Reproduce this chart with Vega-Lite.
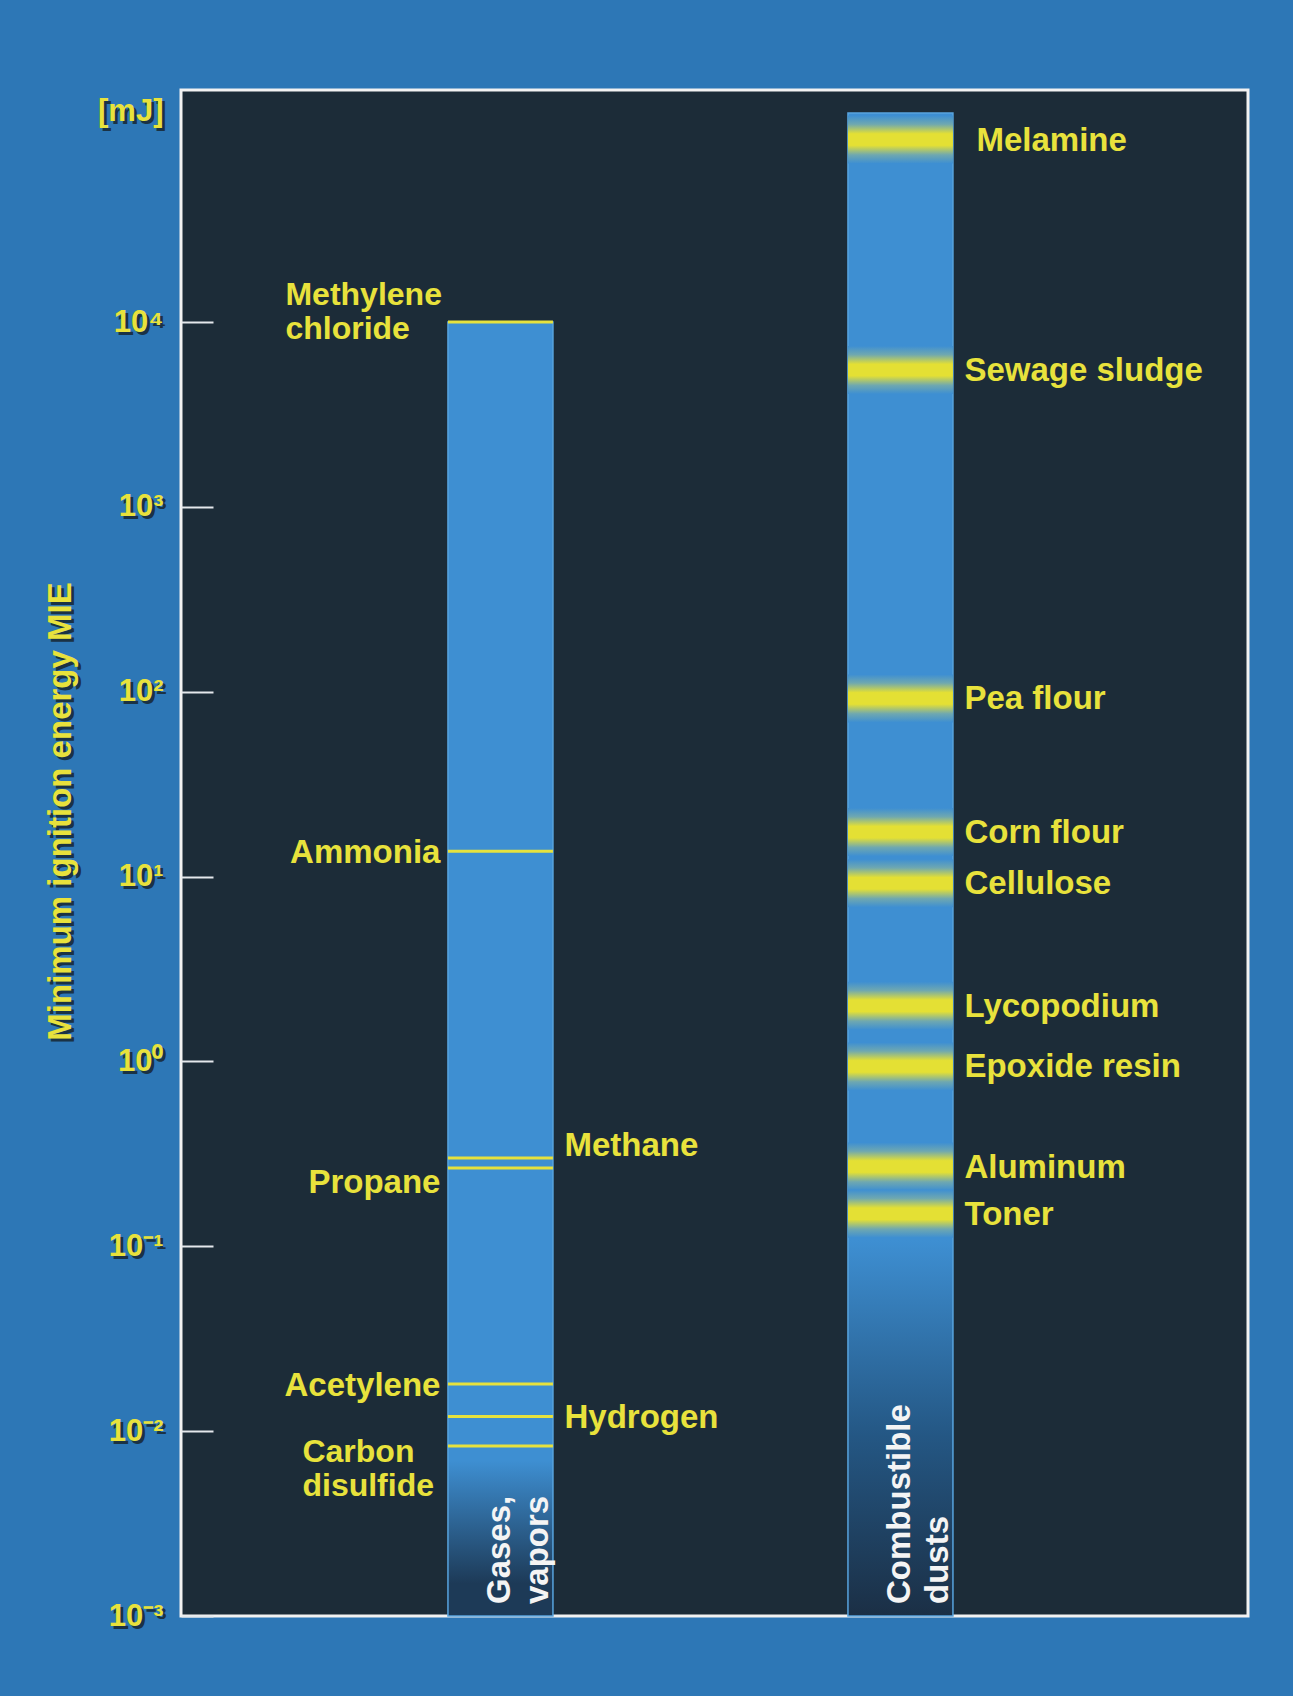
{
  "$schema": "https://vega.github.io/schema/vega-lite/v6.json",
  "width": 1067,
  "height": 1526,
  "autosize": {"type": "none"},
  "padding": {"left": 181, "top": 90, "right": 45, "bottom": 80},
  "background": "#2d77b6",
  "resolve": {"axis": {"y": "independent"}},
  "config": {
    "view": {"fill": "#1c2c38", "stroke": "#f2f2f2", "strokeWidth": 3},
    "text": {"font": "Liberation Sans", "fontWeight": "bold", "fontSize": 33, "color": "#e8e23c"},
    "axisY": {
      "grid": false,
      "domain": false,
      "tickSize": -32,
      "tickWidth": 2,
      "tickColor": "#e4e8ec",
      "labelPadding": 50,
      "labelColor": "#e8e23c",
      "labelFont": "Liberation Sans",
      "labelFontSize": 31,
      "labelFontWeight": "bold",
      "labelBaseline": "middle",
      "labelAlign": "right",
      "labelOverlap": false,
      "labelBound": false,
      "labelFlush": false,
      "titleColor": "#e8e23c",
      "titleFont": "Liberation Sans",
      "titleFontSize": 33,
      "titleFontWeight": "bold",
      "titleAngle": 270,
      "titleAlign": "center",
      "titleBaseline": "middle",
      "titleX": -121,
      "titleY": 721
    }
  },
  "datasets": {
    "bars": [
      {"group": "Gases, vapors", "low": 0.001, "high": 10000, "caption": ["Gases,", "vapors"]},
      {"group": "Combustible dusts", "low": 0.001, "high": 135000, "caption": ["Combustible", "dusts"]}
    ],
    "gases": [
      {"group": "Gases, vapors", "name": "Methylene chloride", "label": ["Methylene", "chloride"], "mie": 10000},
      {"group": "Gases, vapors", "name": "Ammonia", "label": "Ammonia", "mie": 13.7},
      {"group": "Gases, vapors", "name": "Methane", "label": "Methane", "mie": 0.30},
      {"group": "Gases, vapors", "name": "Propane", "label": "Propane", "mie": 0.265},
      {"group": "Gases, vapors", "name": "Acetylene", "label": "Acetylene", "mie": 0.018},
      {"group": "Gases, vapors", "name": "Hydrogen", "label": "Hydrogen", "mie": 0.012},
      {"group": "Gases, vapors", "name": "Carbon disulfide", "label": ["Carbon", "disulfide"], "mie": 0.0083}
    ],
    "dusts": [
      {"group": "Combustible dusts", "name": "Melamine", "mie": 97000},
      {"group": "Combustible dusts", "name": "Sewage sludge", "mie": 5500},
      {"group": "Combustible dusts", "name": "Pea flour", "mie": 92},
      {"group": "Combustible dusts", "name": "Corn flour", "mie": 17.4},
      {"group": "Combustible dusts", "name": "Cellulose", "mie": 9.2},
      {"group": "Combustible dusts", "name": "Lycopodium", "mie": 2.0},
      {"group": "Combustible dusts", "name": "Epoxide resin", "mie": 0.94},
      {"group": "Combustible dusts", "name": "Aluminum", "mie": 0.27},
      {"group": "Combustible dusts", "name": "Toner", "mie": 0.15}
    ]
  },
  "encoding": {
    "x": {
      "field": "group",
      "type": "nominal",
      "scale": {"domain": ["Gases, vapors", "Combustible dusts"], "paddingInner": 0.7375, "paddingOuter": 0.7025, "align": 0.475},
      "axis": null
    }
  },
  "layer": [
    {
      "data": {"name": "bars"},
      "transform": [{"filter": "datum.group === 'Gases, vapors'"}],
      "mark": {
        "type": "bar",
        "color": {"gradient": "linear", "x1": 0, "y1": 0, "x2": 0, "y2": 1,
          "stops": [
            {"offset": 0, "color": "#3e8fd2"},
            {"offset": 0.88, "color": "#3e8fd2"},
            {"offset": 0.975, "color": "#1d3a57"},
            {"offset": 1, "color": "#1d3a57"}
          ]},
        "stroke": "#58a4de",
        "strokeWidth": 1.5
      },
      "encoding": {
        "y": {
          "field": "low",
          "type": "quantitative",
          "scale": {"type": "log", "domain": [0.001, 179900], "nice": false},
          "axis": {
            "orient": "left",
            "title": "Minimum ignition energy MIE",
            "values": [0.001, 0.01, 0.1, 1, 10, 100, 1000, 10000, 138000],
            "labelExpr": "datum.value > 100000 ? '[mJ]' : datum.value > 5000 ? '10⁴' : datum.value > 500 ? '10³' : datum.value > 50 ? '10²' : datum.value > 5 ? '10¹' : datum.value > 0.5 ? '10⁰' : datum.value > 0.05 ? '10⁻¹' : datum.value > 0.005 ? '10⁻²' : '10⁻³'",
            "ticks": false,
            "labelColor": "#1a3245",
            "labelPadding": 15,
            "labelOffset": 3,
            "titleColor": "#1a3245",
            "titleX": -118,
            "titleY": 724
          }
        },
        "y2": {"field": "high"}
      }
    },
    {
      "data": {"name": "bars"},
      "transform": [{"filter": "datum.group === 'Combustible dusts'"}],
      "mark": {
        "type": "bar",
        "color": {"gradient": "linear", "x1": 0, "y1": 0, "x2": 0, "y2": 1,
          "stops": [
            {"offset": 0, "color": "#3e8fd2"},
            {"offset": 0.75, "color": "#3e8fd2"},
            {"offset": 0.88, "color": "#245784"},
            {"offset": 1, "color": "#1b2f45"}
          ]},
        "stroke": "#58a4de",
        "strokeWidth": 1.5
      },
      "encoding": {
        "y": {
          "field": "low",
          "type": "quantitative",
          "axis": {
            "orient": "left",
            "title": "Minimum ignition energy MIE",
            "values": [0.001, 0.01, 0.1, 1, 10, 100, 1000, 10000, 138000],
            "labelExpr": "datum.value > 100000 ? '[mJ]' : datum.value > 5000 ? '10⁴' : datum.value > 500 ? '10³' : datum.value > 50 ? '10²' : datum.value > 5 ? '10¹' : datum.value > 0.5 ? '10⁰' : datum.value > 0.05 ? '10⁻¹' : datum.value > 0.005 ? '10⁻²' : '10⁻³'",
            "tickOpacity": {"condition": {"test": "datum.value > 100000", "value": 0}, "value": 1}
          }
        },
        "y2": {"field": "high"}
      }
    },
    {
      "data": {"name": "gases"},
      "mark": {"type": "tick", "orient": "horizontal", "size": 105, "thickness": 3, "color": "#e6e23e", "opacity": 1},
      "encoding": {
        "y": {"field": "mie", "type": "quantitative", "axis": null}
      }
    },
    {
      "data": {"name": "dusts"},
      "mark": {
        "type": "tick", "orient": "horizontal", "size": 105, "thickness": 48, "opacity": 1,
        "color": {"gradient": "linear", "x1": 0, "y1": 0, "x2": 0, "y2": 1,
          "stops": [
            {"offset": 0, "color": "#3e8fd2"},
            {"offset": 0.18, "color": "#6fa8b0"},
            {"offset": 0.38, "color": "#e4e034"},
            {"offset": 0.62, "color": "#e4e034"},
            {"offset": 0.82, "color": "#6fa8b0"},
            {"offset": 1, "color": "#3e8fd2"}
          ]}
      },
      "encoding": {
        "y": {"field": "mie", "type": "quantitative", "axis": null}
      }
    },
    {
      "data": {"name": "bars"},
      "mark": {"type": "text", "angle": 270, "align": "left", "baseline": "middle", "dx": 12, "color": "#f4f4f4", "lineHeight": 38},
      "encoding": {
        "y": {"field": "low", "type": "quantitative", "axis": null},
        "text": {"field": "caption"}
      }
    },
    {
      "data": {"name": "gases"},
      "transform": [{"filter": "datum.name === 'Ammonia' || datum.name === 'Acetylene'"}],
      "mark": {"type": "text", "align": "right", "baseline": "middle", "dx": -60, "dy": 2},
      "encoding": {
        "y": {"field": "mie", "type": "quantitative", "axis": null},
        "text": {"field": "label"}
      }
    },
    {
      "data": {"name": "gases"},
      "transform": [{"filter": "datum.name === 'Propane'"}],
      "mark": {"type": "text", "align": "right", "baseline": "alphabetic", "dx": -60, "dy": 25},
      "encoding": {
        "y": {"field": "mie", "type": "quantitative", "axis": null},
        "text": {"field": "label"}
      }
    },
    {
      "data": {"name": "gases"},
      "transform": [{"filter": "datum.name === 'Methane'"}],
      "mark": {"type": "text", "align": "left", "baseline": "alphabetic", "dx": 64, "dy": -2},
      "encoding": {
        "y": {"field": "mie", "type": "quantitative", "axis": null},
        "text": {"field": "label"}
      }
    },
    {
      "data": {"name": "gases"},
      "transform": [{"filter": "datum.name === 'Hydrogen'"}],
      "mark": {"type": "text", "align": "left", "baseline": "middle", "dx": 64, "dy": 1},
      "encoding": {
        "y": {"field": "mie", "type": "quantitative", "axis": null},
        "text": {"field": "label"}
      }
    },
    {
      "data": {"name": "gases"},
      "transform": [{"filter": "datum.name === 'Methylene chloride'"}],
      "mark": {"type": "text", "align": "left", "baseline": "alphabetic", "dx": -215, "dy": -17, "lineHeight": 34, "fontSize": 32},
      "encoding": {
        "y": {"field": "mie", "type": "quantitative", "axis": null},
        "text": {"field": "label"}
      }
    },
    {
      "data": {"name": "gases"},
      "transform": [{"filter": "datum.name === 'Carbon disulfide'"}],
      "mark": {"type": "text", "align": "left", "baseline": "alphabetic", "dx": -198, "dy": 16, "lineHeight": 34, "fontSize": 32},
      "encoding": {
        "y": {"field": "mie", "type": "quantitative", "axis": null},
        "text": {"field": "label"}
      }
    },
    {
      "data": {"name": "dusts"},
      "transform": [{"filter": "datum.name !== 'Melamine'"}],
      "mark": {"type": "text", "align": "left", "baseline": "middle", "dx": 64, "dy": 1},
      "encoding": {
        "y": {"field": "mie", "type": "quantitative", "axis": null},
        "text": {"field": "name"}
      }
    },
    {
      "data": {"name": "dusts"},
      "transform": [{"filter": "datum.name === 'Melamine'"}],
      "mark": {"type": "text", "align": "left", "baseline": "middle", "dx": 76, "dy": 1},
      "encoding": {
        "y": {"field": "mie", "type": "quantitative", "axis": null},
        "text": {"field": "name"}
      }
    }
  ]
}
